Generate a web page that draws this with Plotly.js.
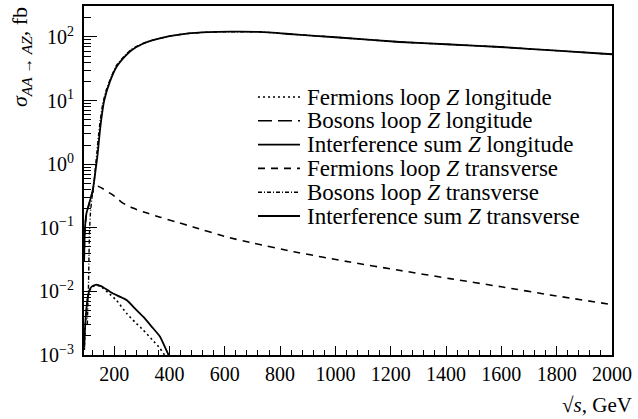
<!DOCTYPE html>
<html>
<head>
<meta charset="utf-8">
<script src="https://cdn.plot.ly/plotly-3.0.1.min.js"></script>
<style>html,body{margin:0;padding:0;background:#fff;}#chart{width:638px;height:419px;}</style>
</head>
<body>
<div id="chart"></div>
<script>
// ---- data (sqrt(s) in GeV, sigma in fb) ----
const seriesNames = [
  "Fermions loop <i>Z</i> longitude",
  "Bosons loop <i>Z</i> longitude",
  "Interference sum <i>Z</i> longitude",
  "Fermions loop <i>Z</i> transverse",
  "Bosons loop <i>Z</i> transverse",
  "Interference sum <i>Z</i> transverse"
];

const fermLongE = [92, 95, 100, 105, 112, 120, 130, 140, 150, 160, 185, 209, 245, 275, 305, 337, 366, 378, 400, 430];
const fermLongV = [0.0012, 0.0026, 0.0052, 0.0080, 0.0104, 0.0117, 0.0123, 0.0124, 0.0120, 0.0112, 0.0090, 0.0072, 0.00452, 0.0033, 0.00247, 0.00175, 0.00127, 0.00106, 0.0008, 0.0005];

const bosLongE = [100, 150, 200, 245, 305, 366, 450, 600];
const bosLongV = [0.00001, 0.00005, 0.0002, 0.00033, 0.00018, 0.00007, 0.00003, 0.00001];

const sumLongE = [92, 95, 100, 105, 112, 120, 130, 138, 150, 160, 185, 214, 245, 275, 305, 337, 366, 396, 430];
const sumLongV = [0.0013, 0.0028, 0.0055, 0.0083, 0.0108, 0.0120, 0.0126, 0.0127, 0.0122, 0.0116, 0.0099, 0.0085, 0.0073, 0.0054, 0.0040, 0.00275, 0.00194, 0.00102, 0.0006];

const fermTransE = [91.5, 94, 100, 106, 113, 122, 132, 141, 160, 180, 196, 215, 232, 268, 310, 366, 420, 485, 608, 702, 850, 1053, 1230, 1414, 1600, 1776, 2000];
const fermTransV = [0.03, 0.09, 0.17, 0.21, 0.27, 0.36, 0.43, 0.45, 0.41, 0.36, 0.326, 0.28, 0.244, 0.204, 0.175, 0.147, 0.125, 0.103, 0.0715, 0.0574, 0.042, 0.0289, 0.0215, 0.0159, 0.0118, 0.0088, 0.0062];

const bosTransE = [103, 105, 107, 109, 111, 115, 120, 126, 132, 138, 144, 150, 158, 170, 190, 209, 240, 263, 300, 340, 400, 462, 540, 619, 727, 850, 1000, 1233, 1400, 1595, 1800, 2000];
const bosTransV = [0.003, 0.006, 0.011, 0.035, 0.09, 0.19, 0.30, 0.46, 0.85, 1.6, 3.0, 5.0, 8.5, 14, 24, 36, 52, 64, 78, 89, 103, 113, 119, 121, 120, 110, 99, 83.4, 76.8, 69.6, 61, 53.5];

const sumTransE = [91.5, 94, 100, 106, 113, 122, 128, 134, 140, 146, 152, 164, 185, 209, 240, 263, 300, 340, 400, 462, 540, 619, 727, 850, 1000, 1233, 1400, 1595, 1800, 2000];
const sumTransV = [0.03, 0.09, 0.17, 0.21, 0.27, 0.38, 0.55, 0.88, 1.4, 2.6, 4.5, 10, 20, 34, 50, 62, 77, 89, 103, 113, 119, 121, 120, 110, 99, 83.4, 76.8, 69.6, 61, 53.5];

const yTickVals = [0.001, 0.01, 0.1, 1, 10, 100];
const yTickText = ["10<sup>\u22123</sup>", "10<sup>\u22122</sup>", "10<sup>\u22121</sup>", "10<sup>0</sup>", "10<sup>1</sup>", "10<sup>2</sup>"];

// ---- styles ----
const serif = "\"Liberation Serif\", \"Times New Roman\", serif";
const dashes = ["2px,3px", "14px,6px", "solid", "7px,6px", "4px,2px,1px,2px", "solid"];
const widths = [1.6, 1.6, 1.8, 1.6, 1.4, 1.8];

const seriesX = [fermLongE, bosLongE, sumLongE, fermTransE, bosTransE, sumTransE];
const seriesY = [fermLongV, bosLongV, sumLongV, fermTransV, bosTransV, sumTransV];

const traces = seriesX.map((x, i) => ({
  x: x, y: seriesY[i], name: seriesNames[i], type: "scatter", mode: "lines",
  showlegend: false,
  line: {color: "#000", width: widths[i], dash: dashes[i], shape: "spline", smoothing: 0.5}
}));

const minorY = [];
for (let d = -3; d <= 2; d++) for (let k = 2; k <= 9; k++) minorY.push(k * Math.pow(10, d));

// legend drawn as key lines + text (paper coordinates)
const plotL = 84, plotW = 528, plotT = 6, plotH = 349;
const px2x = p => (p - plotL) / plotW;
const py2y = p => (plotT + plotH - p) / plotH;
const legendShapes = [], legendTexts = [];
seriesNames.forEach((nm, i) => {
  const yy = py2y(97 + i * 23.8);
  legendShapes.push({type: "line", xref: "paper", yref: "paper",
    x0: px2x(258), x1: px2x(300), y0: yy, y1: yy,
    line: {color: "#000", width: widths[i], dash: dashes[i]}});
  legendTexts.push({text: nm, xref: "paper", yref: "paper", x: px2x(305), y: yy,
    xanchor: "left", yanchor: "middle", showarrow: false,
    font: {family: serif, size: 23, color: "#000"}});
});

const layout = {
  width: 638, height: 419,
  margin: {l: 84, r: 26, t: 6, b: 64},
  paper_bgcolor: "#fff", plot_bgcolor: "#fff",
  font: {family: serif, color: "#000", size: 20},
  showlegend: false,
  xaxis: {range: [91, 2000], showgrid: false, zeroline: false,
          showline: true, linecolor: "#000", linewidth: 2, mirror: true,
          ticks: "inside", ticklen: 9, tickwidth: 1, tickcolor: "#000",
          tick0: 0, dtick: 200, tickfont: {size: 20, family: serif, color: "#000"},
          minor: {dtick: 40, ticks: "inside", ticklen: 5, tickcolor: "#000", showgrid: false}},
  yaxis: {type: "log", range: [-3, 2.487], showgrid: false, zeroline: false,
          showline: true, linecolor: "#000", linewidth: 2, mirror: true,
          ticks: "inside", ticklen: 13, tickwidth: 1, tickcolor: "#000",
          tickmode: "array", tickvals: yTickVals, ticktext: yTickText,
          tickfont: {size: 20, family: serif, color: "#000"}, ticklabelstandoff: 4,
          minor: {tickmode: "array", tickvals: minorY, ticks: "inside", ticklen: 7, tickcolor: "#000", showgrid: false}},
  shapes: legendShapes,
  annotations: legendTexts.concat([
    {text: "<i>σ</i><sub><i>AA</i> → <i>AZ</i></sub>, fb", xref: "paper", yref: "paper",
     x: px2x(21), y: py2y(5), xanchor: "center", yanchor: "top", textangle: -90,
     showarrow: false, font: {family: serif, size: 22, color: "#000"}},
    {text: "√<i>s</i>, GeV", xref: "paper", yref: "paper",
     x: px2x(634), y: py2y(405), xanchor: "right", yanchor: "middle",
     showarrow: false, font: {family: serif, size: 21, color: "#000"}}
  ])
};

Plotly.newPlot("chart", traces, layout, {displayModeBar: false, staticPlot: true});
</script>
</body>
</html>
